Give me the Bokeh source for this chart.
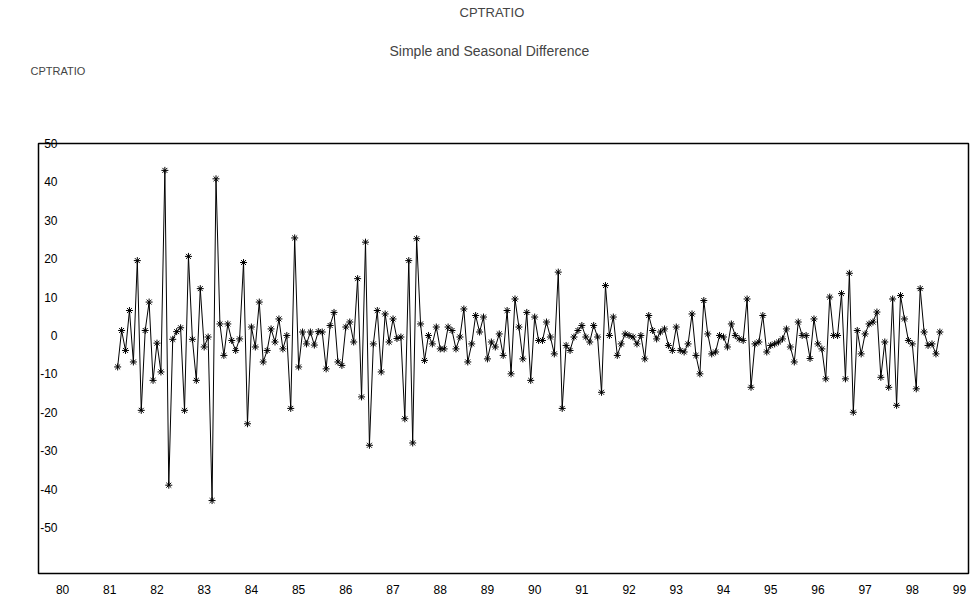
import numpy as np
from bokeh.plotting import figure
from bokeh.models import ColumnDataSource, FixedTicker, Title, Range1d
from bokeh.embed import file_html
from bokeh.resources import INLINE

# Monthly series, first observation March 1981
start_year = 1981
start_month = 3

cptratio_1981_1985 = [
    -8.2, 1.3, -3.9, 6.5, -6.9, 19.5, -19.5, 1.3, 8.7, -11.7,
    -2.0, -9.5, 43.0, -39.0, -1.0, 1.0, 2.0, -19.5, 20.6, -1.0,
    -11.7, 12.2, -3.0, -0.4, -43.0, 40.8, 3.0, -5.2, 3.0, -1.3,
    -3.9, -0.9, 19.0, -23.0, 2.2, -3.0, 8.7, -6.9, -3.9, 1.7,
    -1.7, 4.3, -3.5, 0.0, -19.0, 25.4, -8.2, 0.9, -2.2, 0.9,
    -2.5, 1.0, 0.9, -8.7, 2.6, 6.0, -6.9, -7.8, 2.2, 3.5,
]
cptratio_1986_1990 = [
    -1.7, 14.8, -16.0, 24.3, -28.6, -2.2, 6.5, -9.5, 5.6, -1.7,
    4.3, -0.8, -0.4, -21.7, 19.5, -28.0, 25.2, 3.0, -6.5, 0.0,
    -2.2, 2.2, -3.5, -3.5, 2.2, 1.3, -3.5, -0.4, 6.9, -6.9,
    -2.2, 5.2, 0.9, 4.8, -6.1, -1.7, -3.0, 0.4, -5.2, 6.5,
    -10.0, 9.5, 2.2, -6.1, 6.0, -11.7, 4.8, -1.3, -1.3, 3.5,
    -0.4, -4.8, 16.5, -19.0, -2.6, -3.9, -0.4, 1.3, 2.6, -0.4,
]
cptratio_1991_1995 = [
    -1.7, 2.6, -0.4, -14.8, 13.0, 0.0, 4.8, -5.2, -2.2, 0.4,
    0.0, -0.4, -2.2, 0.0, -6.1, 5.2, 1.3, -0.9, 0.9, 1.7,
    -2.6, -3.9, 2.2, -3.9, -4.3, -2.2, 5.6, -5.2, -10.0, 9.1,
    0.4, -4.8, -4.3, 0.0, -0.4, -3.0, 3.0, 0.0, -0.9, -1.3,
    9.5, -13.5, -2.2, -1.7, 5.2, -4.3, -2.6, -2.2, -1.7, -0.9,
    1.7, -3.0, -6.9, 3.5, 0.0, 0.0, -6.0, 4.3, -2.2, -3.5,
]
cptratio_1996_1998 = [
    -11.3, 10.0, 0.0, 0.0, 10.9, -11.3, 16.2, -20.0, 1.3, -4.8,
    0.4, 3.0, 3.5, 6.1, -10.9, -1.7, -13.5, 9.5, -18.2, 10.4,
    4.3, -1.3, -2.2, -13.9, 12.2, 0.9, -2.6, -2.2, -4.8, 0.9,
]

year_ticks = list(range(1980, 2000))
year_labels = [str(y)[2:] for y in year_ticks]
value_ticks = [-50, -40, -30, -20, -10, 0, 10, 20, 30, 40, 50]
value_labels = [str(v) for v in value_ticks]

values = cptratio_1981_1985 + cptratio_1986_1990 + cptratio_1991_1995 + cptratio_1996_1998
n = len(values)
dates = start_year + (start_month - 1 + np.arange(n)) / 12.0
src = ColumnDataSource(data=dict(date=dates, value=values))

FONT = "Liberation Sans"

p = figure(width=978, height=604, output_backend="svg", toolbar_location=None,
           x_range=Range1d(1979.49, 1999.19), y_range=Range1d(-62.0, 50.0),
           min_border_left=38, min_border_right=10, min_border_bottom=31, min_border_top=0)
p.background_fill_color = "white"
p.border_fill_color = "white"
p.grid.visible = False
p.outline_line_color = "black"
p.outline_line_width = 1.5

p.line("date", "value", source=src, line_color="black", line_width=1)
p.scatter("date", "value", source=src, marker="asterisk", size=7, line_color="black", line_width=1)

# x axis
xa = p.xaxis[0]
xa.ticker = FixedTicker(ticks=year_ticks)
xa.major_label_overrides = {t: l for t, l in zip(year_ticks, year_labels)}
xa.axis_line_color = None
xa.major_tick_out = 0
xa.major_tick_in = 0
xa.minor_tick_out = 0
xa.minor_tick_in = 0
xa.major_label_standoff = 11
xa.major_label_text_font = FONT
xa.major_label_text_font_size = "12px"
xa.major_label_text_color = "black"

# y axis, labels drawn inside the frame
ya = p.yaxis[0]
ya.ticker = FixedTicker(ticks=value_ticks)
ya.major_label_overrides = {t: l for t, l in zip(value_ticks, value_labels)}
ya.axis_line_color = None
ya.major_tick_out = 0
ya.major_tick_in = 0
ya.minor_tick_out = 0
ya.minor_tick_in = 0
ya.major_label_standoff = -19
ya.major_label_text_font = FONT
ya.major_label_text_font_size = "12px"
ya.major_label_text_color = "black"

# stacked titles (first added sits closest to the frame)
p.add_layout(Title(text=" ", text_font_size="4px", standoff=59), "above")
p.add_layout(Title(text="CPTRATIO", align="left", offset=-8, standoff=2, vertical_align="bottom",
                   text_font=FONT, text_font_size="11px", text_font_style="normal"), "above")
p.add_layout(Title(text="Simple and Seasonal Difference", align="left", offset=351, standoff=5,
                   vertical_align="bottom",
                   text_font=FONT, text_font_size="14px", text_font_style="normal"), "above")
p.add_layout(Title(text=" ", text_font_size="4px", standoff=5), "above")
p.add_layout(Title(text="CPTRATIO", align="left", offset=421, standoff=9, vertical_align="top",
                   text_font=FONT, text_font_size="13px", text_font_style="normal"), "above")

open("out.html", "w").write(file_html(p, INLINE))
